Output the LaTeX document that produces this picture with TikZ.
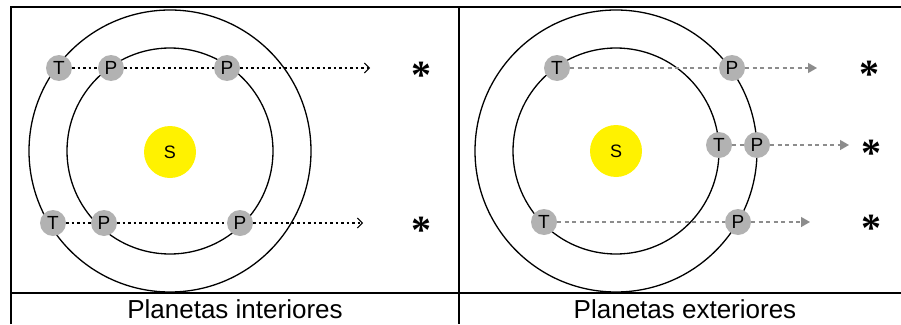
\documentclass[tikz,border=0pt]{standalone}
\usepackage{fontspec}
\setmainfont{Liberation Sans}
\newfontfamily\starfont{Liberation Serif}
\usetikzlibrary{arrows.meta}
\definecolor{planetgray}{RGB}{178,178,178}
\definecolor{raygray}{RGB}{140,140,140}
\begin{document}
\begin{tikzpicture}[x=1pt,y=-1pt,
 planet/.style={circle,fill=planetgray,minimum size=26pt,inner sep=0pt,font=\fontsize{19}{19}\selectfont},
 sun/.style={circle,fill=yellow,minimum size=52pt,inner sep=0pt,font=\fontsize{18}{18}\selectfont},
 orbit/.style={line width=1.3pt},
 frame/.style={line width=2.2pt},
 dotline/.style={line width=1.5pt,dash pattern=on 2.5pt off 3pt},
 innerray/.style={dotline,-{Straight Barb[length=5pt,width=10pt,line width=1pt]}},
 dashline/.style={draw=raygray,line width=1.3pt,dash pattern=on 4pt off 3.5pt},
 outerray/.style={dashline,-{Triangle[length=9pt,width=10pt]}},
 star/.style={font=\starfont\bfseries\fontsize{40}{40}\selectfont,inner sep=0pt,anchor=base},
 caption/.style={font=\fontsize{26}{26}\selectfont,anchor=base}]
\useasboundingbox (0,0) rectangle (901,324);
% frame
\draw[frame] (11,324) -- (11,7) -- (901,7);
\draw[frame] (459,7) -- (459,324);
\draw[frame] (11,293) -- (901,293);
% left panel
\draw[orbit] (170,151) circle (141);
\draw[orbit] (170,151) circle (103);
\node[sun] (sL) at (170,152) {S};
\node[planet] (t1) at (59,68) {T};
\node[planet] (p1) at (111,68) {P};
\node[planet] (p2) at (227,68) {P};
\coordinate (e1) at (370,68);
\node[planet] (t2) at (53,223) {T};
\node[planet] (p3) at (104,223) {P};
\node[planet] (p4) at (240,223) {P};
\coordinate (e2) at (363,223);
\draw[dotline] (t1) -- (p1);
\draw[dotline] (p1) -- (p2);
\draw[innerray] (p2) -- (e1);
\draw[dotline] (t2) -- (p3);
\draw[dotline] (p3) -- (p4);
\draw[innerray] (p4) -- (e2);
\node[star] (s1) at (421,88) {*};
\node[star] (s2) at (421,243) {*};
\node[caption] (c1) at (235,318) {Planetas interiores};
% right panel
\draw[orbit] (616,151) circle (141);
\draw[orbit] (616,151) circle (103);
\node[sun] (sR) at (616,151) {S};
\node[planet] (t3) at (557,68) {T};
\node[planet] (p5) at (732,68) {P};
\coordinate (e3) at (817,68);
\node[planet] (t4) at (719,145) {T};
\node[planet] (p6) at (757,145) {P};
\coordinate (e4) at (849,145);
\node[planet] (t5) at (544,222) {T};
\node[planet] (p7) at (738,222) {P};
\coordinate (e5) at (810,222);
\draw[dashline] (t3) -- (p5);
\draw[outerray] (p5) -- (e3);
\draw[dashline] (t4) -- (p6);
\draw[outerray] (p6) -- (e4);
\draw[dashline] (t5) -- (p7);
\draw[outerray] (p7) -- (e5);
\node[star] (s3) at (869,87) {*};
\node[star] (s4) at (871,166) {*};
\node[star] (s5) at (871,241) {*};
\node[caption] (c2) at (685,318) {Planetas exteriores};
\end{tikzpicture}
\end{document}
